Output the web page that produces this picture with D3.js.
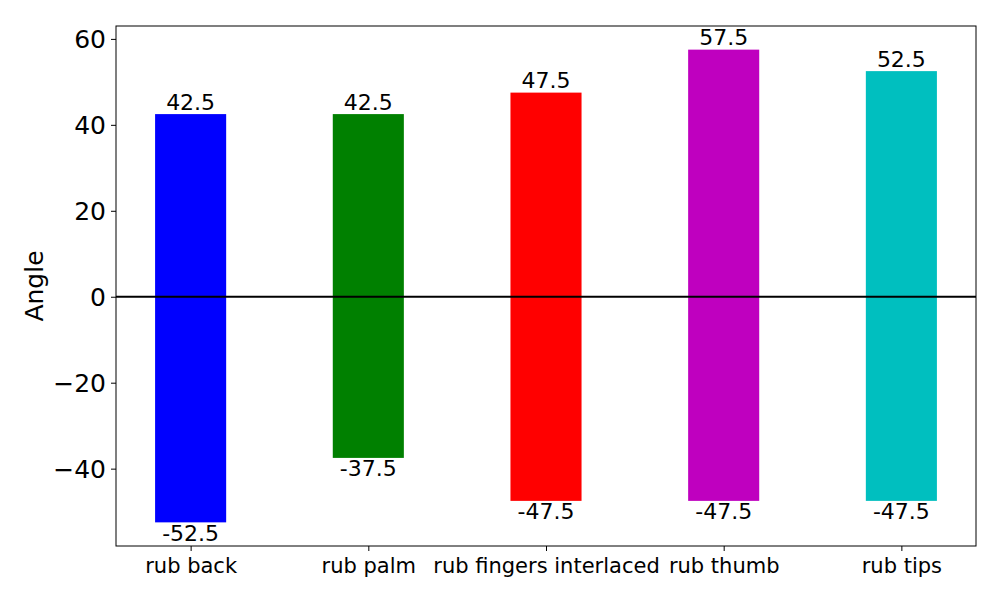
<!DOCTYPE html>
<html><head><meta charset="utf-8">
<script src="https://cdn.jsdelivr.net/npm/d3@7"></script>
<style>body{margin:0;background:#fff;} text{font-family:"DejaVu Sans",sans-serif;}</style>
</head><body>
<svg id="c" width="1000" height="600"></svg>
<script>
const categories = ["rub back","rub palm","rub fingers interlaced","rub thumb","rub tips"];
const upperValues = [42.5, 42.5, 47.5, 57.5, 52.5];
const lowerValues = [-52.5, -37.5, -47.5, -47.5, -47.5];
const colors = ["#0000ff","#008000","#ff0000","#bf00bf","#00bfbf"];
const yTicks = [-40, -20, 0, 20, 40, 60];

const svg = d3.select("#c");
const L = 116, R = 976, T = 26, B = 546;
const barW = 0.4;
const x = d3.scaleLinear().domain([-0.42, 4.42]).range([L, R]);
const y = d3.scaleLinear().domain([-58, 63]).range([B, T]);

const g = svg.append("g");
categories.forEach((c, i) => {
  const x0 = x(i - barW/2), x1 = x(i + barW/2);
  g.append("rect").attr("x", x0).attr("width", x1 - x0)
    .attr("y", y(upperValues[i])).attr("height", y(0) - y(upperValues[i]))
    .attr("fill", colors[i]);
  g.append("rect").attr("x", x0).attr("width", x1 - x0)
    .attr("y", y(0)).attr("height", y(lowerValues[i]) - y(0))
    .attr("fill", colors[i]);
  g.append("text").attr("x", x(i)).attr("y", y(upperValues[i]) - 4.5)
    .attr("text-anchor", "middle").attr("font-size", 22).text(upperValues[i].toFixed(1));
  g.append("text").attr("x", x(i)).attr("y", y(lowerValues[i]) - 1.5)
    .attr("dominant-baseline", "text-before-edge")
    .attr("text-anchor", "middle").attr("font-size", 22).text(lowerValues[i].toFixed(1));
});

// zero line
svg.append("line").attr("x1", L).attr("x2", R).attr("y1", y(0)).attr("y2", y(0))
  .attr("stroke", "#000").attr("stroke-width", 1.8);

// frame
svg.append("rect").attr("x", L).attr("y", T).attr("width", R - L).attr("height", B - T)
  .attr("fill", "none").attr("stroke", "#000").attr("stroke-width", 1);

// y axis
const yAxis = d3.axisLeft(y).tickValues(yTicks).tickSize(5).tickPadding(5)
  .tickFormat(d => d < 0 ? "\u2212" + Math.abs(d) : String(d));
const ya = svg.append("g").attr("transform", `translate(${L},0)`).call(yAxis);
ya.select(".domain").remove();
ya.selectAll("text").attr("font-size", 25).attr("font-family", "DejaVu Sans").attr("fill", "#000").attr("dy", "0.36em");
ya.selectAll("line").attr("stroke", "#000");

// x axis
const xAxis = d3.axisBottom(x).tickValues(d3.range(categories.length)).tickSize(5).tickPadding(7)
  .tickFormat(i => categories[i]);
const xa = svg.append("g").attr("transform", `translate(0,${B})`).call(xAxis);
xa.select(".domain").remove();
xa.selectAll("text").attr("font-size", 21).attr("font-family", "DejaVu Sans").attr("fill", "#000");
xa.selectAll("line").attr("stroke", "#000");

// y label
svg.append("text").attr("transform", `translate(43,${(T+B)/2}) rotate(-90)`)
  .attr("text-anchor", "middle").attr("font-size", 25).text("Angle");
</script>
</body></html>
